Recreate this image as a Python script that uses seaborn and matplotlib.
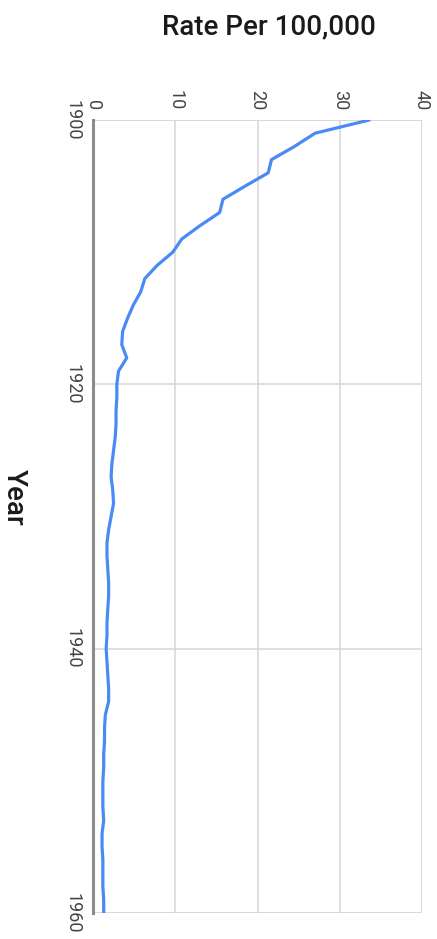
import matplotlib
matplotlib.use("Agg")
import matplotlib.pyplot as plt
import seaborn as sns
import pandas as pd

# yearly rate per 100,000
years = list(range(1900, 1961))
rate = [33.6, 27.0, 24.5, 21.7, 21.3, 18.5, 15.8, 15.4, 13.0, 10.8,
        9.7, 7.8, 6.3, 5.8, 4.9, 4.2, 3.6, 3.5, 4.1, 3.1,
        2.9, 2.9, 2.8, 2.8, 2.7, 2.5, 2.3, 2.2, 2.4, 2.5,
        2.2, 1.9, 1.7, 1.7, 1.8, 1.9, 1.9, 1.8, 1.7, 1.7,
        1.6, 1.7, 1.8, 1.9, 1.9, 1.5, 1.4, 1.4, 1.3, 1.3,
        1.2, 1.2, 1.2, 1.3, 1.1, 1.1, 1.2, 1.2, 1.2, 1.3, 1.3]
rate_ticks = [0, 10, 20, 30, 40]
year_ticks = [1900, 1920, 1940, 1960]

df = pd.DataFrame({"Year": years, "Rate": rate})

sns.set_theme(style="white")
plt.rcParams['font.family'] = ['Roboto', 'DejaVu Sans']

fig = plt.figure(figsize=(4.37, 9.39), dpi=100)
ax = fig.add_axes([93 / 437, 1 - 913 / 939, (422 - 93) / 437, (913 - 120) / 939])

sns.lineplot(data=df, x="Rate", y="Year", orient="y", sort=False,
             color="#4a8af4", linewidth=2.3, ax=ax)

ax.set_xlim(0, 40)
ax.set_ylim(1960, 1900)
ax.set_xticks(rate_ticks)
ax.set_yticks(year_ticks)
ax.xaxis.tick_top()
ax.set_xticklabels([str(t) for t in rate_ticks], rotation=-90, color="#444444", fontsize=13)
ax.set_yticklabels([str(t) for t in year_ticks], rotation=-90, color="#444444", fontsize=13,
                   va="center")
ax.tick_params(axis="x", length=0, pad=7)
ax.tick_params(axis="y", length=0, pad=8)
ax.set_xlabel("")
ax.set_ylabel("")

ax.grid(True, color="#d6d6d6", linewidth=1.1)
for s in ["top", "right", "bottom"]:
    ax.spines[s].set_visible(False)
ax.spines["left"].set_color("#8c8c8c")
ax.spines["left"].set_linewidth(2.2)
ax.axhline(1900, color="#dedede", linewidth=1.1, zorder=0)
ax.axhline(1960, color="#dedede", linewidth=1.1, zorder=0)
ax.axvline(40, color="#d6d6d6", linewidth=1.1, zorder=0)

fig.text(269 / 437, 1 - 27 / 939, "Rate Per 100,000", ha="center", va="center",
         fontsize=20, fontweight="medium", color="#1a1a1a")
fig.text(14 / 437, 1 - 497 / 939, "Year", ha="center", va="center", rotation=-90,
         fontsize=20, fontweight="medium", color="#1a1a1a")

fig.savefig("out.png", dpi=100)
